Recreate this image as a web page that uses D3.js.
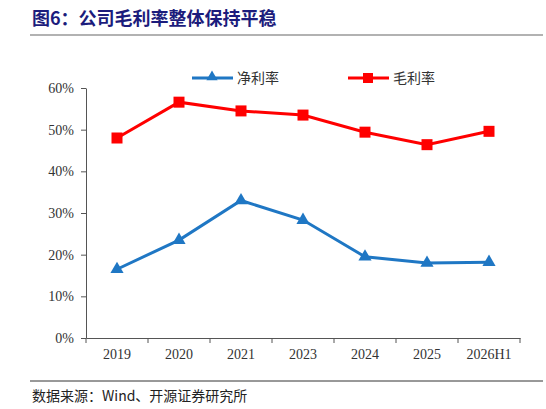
<!DOCTYPE html>
<html><head><meta charset="utf-8">
<script src="https://cdn.jsdelivr.net/npm/d3@7"></script>
<style>body{margin:0;background:#fff}</style>
</head><body>
<svg id="chart" width="546" height="409"></svg>
<script>
var categories = ["2019", "2020", "2021", "2023", "2024", "2025", "2026H1"]
var netMargin = [16.5, 23.5, 33.0, 28.3, 19.5, 18.0, 18.2]
var grossMargin = [48.0, 56.6, 54.5, 53.5, 49.4, 46.4, 49.6]
var yTicks = [0, 10, 20, 30, 40, 50, 60]

var svg = d3.select("#chart")
var cjk = "'Noto Sans CJK SC', sans-serif"
var serif = "'Liberation Serif', 'DejaVu Serif', serif"

// title
svg.append("text").attr("x", 32).attr("y", 25)
  .attr("font-family", cjk).attr("font-weight", "bold").attr("font-size", 18)
  .attr("fill", "#1c1c7c").text("图6：公司毛利率整体保持平稳")
svg.append("line").attr("x1", 30).attr("x2", 543).attr("y1", 35).attr("y2", 35)
  .attr("stroke", "#666").attr("stroke-width", 1.2)

var xScale = d3.scaleBand().domain(categories).range([86, 520])
var yScale = d3.scaleLinear().domain([0, 60]).range([338, 88])

var yAxis = svg.append("g").attr("transform", "translate(86,0)")
  .call(d3.axisLeft(yScale).tickValues(yTicks).tickFormat(d => d + "%").tickSize(5).tickSizeOuter(0))
var xAxis = svg.append("g").attr("transform", "translate(0,338)")
  .call(d3.axisBottom(xScale).tickSize(0).tickSizeOuter(0))
xAxis.selectAll("line.b").data(d3.range(categories.length + 1)).enter().append("line")
  .attr("x1", i => 86 + i * xScale.step()).attr("x2", i => 86 + i * xScale.step())
  .attr("y1", 0).attr("y2", 5).attr("stroke", "#555")
svg.selectAll(".domain").attr("stroke", "#555")
svg.selectAll(".tick line").attr("stroke", "#555")
svg.selectAll(".tick text").attr("font-family", serif).attr("font-size", 14).attr("fill", "#333")
xAxis.selectAll(".tick text").attr("dy", "1.3em")
yAxis.selectAll(".tick text").attr("dx", "-0.3em")

var cx = (d, i) => xScale(categories[i]) + xScale.bandwidth() / 2
var line = d3.line().x((d, i) => cx(d, i)).y(d => yScale(d))

svg.append("path").datum(netMargin).attr("d", line).attr("fill", "none")
  .attr("stroke", "#1f77c4").attr("stroke-width", 3)
svg.append("path").datum(grossMargin).attr("d", line).attr("fill", "none")
  .attr("stroke", "#ff0000").attr("stroke-width", 3)

var tri = d3.symbol().type(d3.symbolTriangle).size(75)
svg.selectAll(".net").data(netMargin).enter().append("path")
  .attr("transform", (d, i) => `translate(${cx(d, i)},${yScale(d)})`)
  .attr("d", tri).attr("fill", "#1f77c4")
svg.selectAll(".gross").data(grossMargin).enter().append("rect")
  .attr("x", (d, i) => cx(d, i) - 5.5).attr("y", d => yScale(d) - 5.5)
  .attr("width", 11).attr("height", 11).attr("fill", "#ff0000")

// legend
var lg = svg.append("g").attr("font-family", cjk).attr("font-size", 14).attr("fill", "#333")
lg.append("line").attr("x1", 192).attr("x2", 233).attr("y1", 78).attr("y2", 78).attr("stroke", "#1f77c4").attr("stroke-width", 3)
lg.append("path").attr("transform", "translate(212,77)").attr("d", d3.symbol().type(d3.symbolTriangle).size(55)).attr("fill", "#1f77c4")
lg.append("text").attr("x", 237).attr("y", 83).text("净利率")
lg.append("line").attr("x1", 348).attr("x2", 389).attr("y1", 78).attr("y2", 78).attr("stroke", "#ff0000").attr("stroke-width", 3)
lg.append("rect").attr("x", 363).attr("y", 73).attr("width", 10).attr("height", 10).attr("fill", "#ff0000")
lg.append("text").attr("x", 393).attr("y", 83).text("毛利率")

// source
svg.append("line").attr("x1", 30).attr("x2", 543).attr("y1", 381).attr("y2", 381)
  .attr("stroke", "#333").attr("stroke-width", 1)
svg.append("text").attr("x", 32).attr("y", 401).attr("font-family", cjk).attr("font-size", 14)
  .attr("fill", "#222").text("数据来源：Wind、开源证券研究所")
</script>
</body></html>
